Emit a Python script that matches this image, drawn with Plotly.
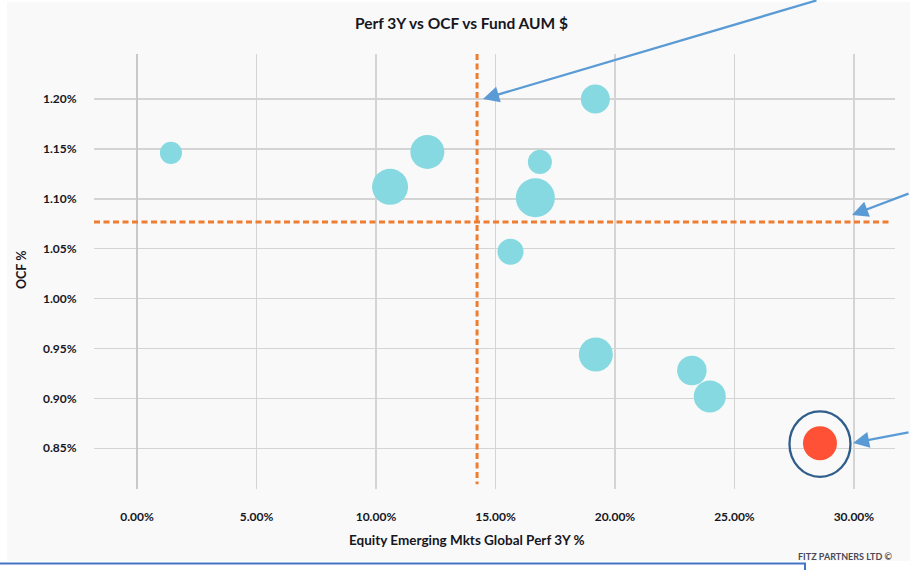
import plotly.graph_objects as go

# ---------------- data ----------------
perf_3y = [1.42, 10.59, 12.15, 16.86, 16.67, 15.63, 19.18, 19.20, 23.22, 23.97]   # % (peer funds)
ocf = [1.146, 1.112, 1.147, 1.137, 1.101, 1.047, 1.200, 0.944, 0.928, 0.902]      # %
aum = [480, 1280, 1140, 570, 1500, 670, 830, 1140, 860, 1010]                     # relative fund AUM $

focus_perf = [28.58]
focus_ocf = [0.855]
focus_aum = [1140]

avg_perf = 14.23   # vertical dashed reference line (%)
avg_ocf = 1.0768   # horizontal dashed reference line (%)

x_ticks = [0, 5, 10, 15, 20, 25, 30]
x_tick_labels = ["0.00%", "5.00%", "10.00%", "15.00%", "20.00%", "25.00%", "30.00%"]
y_ticks = [0.85, 0.90, 0.95, 1.00, 1.05, 1.10, 1.15, 1.20]
y_tick_labels = ["0.85%", "0.90%", "0.95%", "1.00%", "1.05%", "1.10%", "1.15%", "1.20%"]

title_text = "Perf 3Y vs OCF vs Fund AUM $"
x_title = "Equity Emerging Mkts Global Perf 3Y %"
y_title = "OCF %"
credit = "FITZ PARTNERS LTD ©"

# ---------------- layout geometry ----------------
W, H = 910, 570
L, R, T, B = 94, 15, 54, 81
PW, PH = W - L - R, H - T - B
X_RANGE = [-1.80, 31.72]
Y_RANGE = [0.8092, 1.2451]


def px_x(p):
    return (p - L) / PW


def px_y(p):
    return (H - B - p) / PH


FONT = "Lato"
TXT = "#16161e"
TEAL = "#86D9E0"
RED = "#FF5135"
ORANGE = "#ED7D31"
ARROW = "#5B9BD5"
GRID = "#D4D4D4"

all_aum = aum + focus_aum
sizeref = 2.0 * max(all_aum) / (39.0 ** 2)

fig = go.Figure()

# dashed reference lines
fig.add_trace(go.Scatter(
    x=[avg_perf, avg_perf], y=[Y_RANGE[1], 0.814], mode="lines",
    line=dict(color=ORANGE, width=3, dash="6px,3.5px"), hoverinfo="skip"))
fig.add_trace(go.Scatter(
    x=[X_RANGE[0], 31.55], y=[avg_ocf, avg_ocf], mode="lines",
    line=dict(color=ORANGE, width=3, dash="6px,3.5px"), hoverinfo="skip"))

# bubbles
fig.add_trace(go.Scatter(
    x=perf_3y, y=ocf, mode="markers",
    marker=dict(size=aum, sizemode="area", sizeref=sizeref, color=TEAL,
                opacity=1, line=dict(width=0))))
fig.add_trace(go.Scatter(
    x=focus_perf, y=focus_ocf, mode="markers",
    marker=dict(size=focus_aum, sizemode="area", sizeref=sizeref, color=RED,
                opacity=1, line=dict(width=0))))

shapes = [
    # chart background panel
    dict(type="rect", xref="paper", yref="paper", layer="below",
         x0=px_x(7), x1=px_x(915), y0=px_y(561), y1=px_y(2),
         fillcolor="#F9F9F9", line=dict(width=0)),
    # ring around focus fund
    dict(type="circle", xref="x", yref="y", xsizemode="pixel", ysizemode="pixel",
         xanchor=focus_perf[0], yanchor=focus_ocf[0],
         x0=-30.5, x1=30.5, y0=-33.5, y1=32,
         line=dict(color="#2F5E8C", width=2.3)),
    # blue box at the bottom
    dict(type="rect", xref="paper", yref="paper",
         x0=px_x(-5), x1=px_x(805), y0=px_y(590), y1=px_y(563.5),
         line=dict(color="#4472C4", width=2), fillcolor="rgba(0,0,0,0)"),
]

annotations = [
    dict(text=title_text, xref="paper", yref="paper", x=px_x(461), y=px_y(23),
         showarrow=False, font=dict(family=FONT, size=15.5, color=TXT, weight="bold"),
         xanchor="center", yanchor="middle"),
    dict(text=x_title, xref="paper", yref="paper", x=px_x(467), y=px_y(540),
         showarrow=False, font=dict(family=FONT, size=13.5, color=TXT, weight="bold"),
         xanchor="center", yanchor="middle"),
    dict(text=y_title, xref="paper", yref="paper", x=px_x(21), y=px_y(270),
         showarrow=False, textangle=-90,
         font=dict(family=FONT, size=12.5, color=TXT, weight="bold"),
         xanchor="center", yanchor="middle"),
    dict(text=credit, xref="paper", yref="paper", x=px_x(895), y=px_y(556),
         showarrow=False, font=dict(family=FONT, size=9, color="#4a4a55", weight="bold"),
         xanchor="right", yanchor="middle"),
    # arrows
    dict(text="", xref="paper", yref="paper", x=px_x(483), y=px_y(99),
         ax=335, ay=-102, showarrow=True, arrowhead=2, arrowsize=1.4,
         arrowwidth=2.3, arrowcolor=ARROW, standoff=0),
    dict(text="", xref="paper", yref="paper", x=px_x(852), y=px_y(215),
         ax=62, ay=-22, showarrow=True, arrowhead=2, arrowsize=1.4,
         arrowwidth=2.3, arrowcolor=ARROW, standoff=0),
    dict(text="", xref="paper", yref="paper", x=px_x(853), y=px_y(443),
         ax=62, ay=-11, showarrow=True, arrowhead=2, arrowsize=1.4,
         arrowwidth=2.3, arrowcolor=ARROW, standoff=0),
]

tick_font = dict(family=FONT, size=12, color=TXT, weight="bold")

fig.update_layout(
    width=W, height=H, autosize=False,
    margin=dict(l=L, r=R, t=T, b=B, pad=0),
    paper_bgcolor="white", plot_bgcolor="rgba(0,0,0,0)",
    showlegend=False,
    shapes=shapes, annotations=annotations,
    xaxis=dict(range=X_RANGE, tickvals=x_ticks, ticktext=x_tick_labels,
               showgrid=True, gridcolor=GRID, gridwidth=1.5,
               zeroline=True, zerolinecolor="#C8C8C8", zerolinewidth=2.6,
               showline=False, ticks="outside", ticklen=17,
               tickcolor="rgba(0,0,0,0)", tickfont=tick_font, fixedrange=True),
    yaxis=dict(range=Y_RANGE, tickvals=y_ticks, ticktext=y_tick_labels,
               showgrid=True, gridcolor=GRID, gridwidth=1.5,
               zeroline=False, showline=False, ticks="outside", ticklen=14,
               tickcolor="rgba(0,0,0,0)", tickfont=tick_font, fixedrange=True),
)

fig.write_html(
    "out.html",
    config={"displayModeBar": False, "staticPlot": True},
    post_script="document.body.style.margin='0';document.body.style.overflow='hidden';",
)
